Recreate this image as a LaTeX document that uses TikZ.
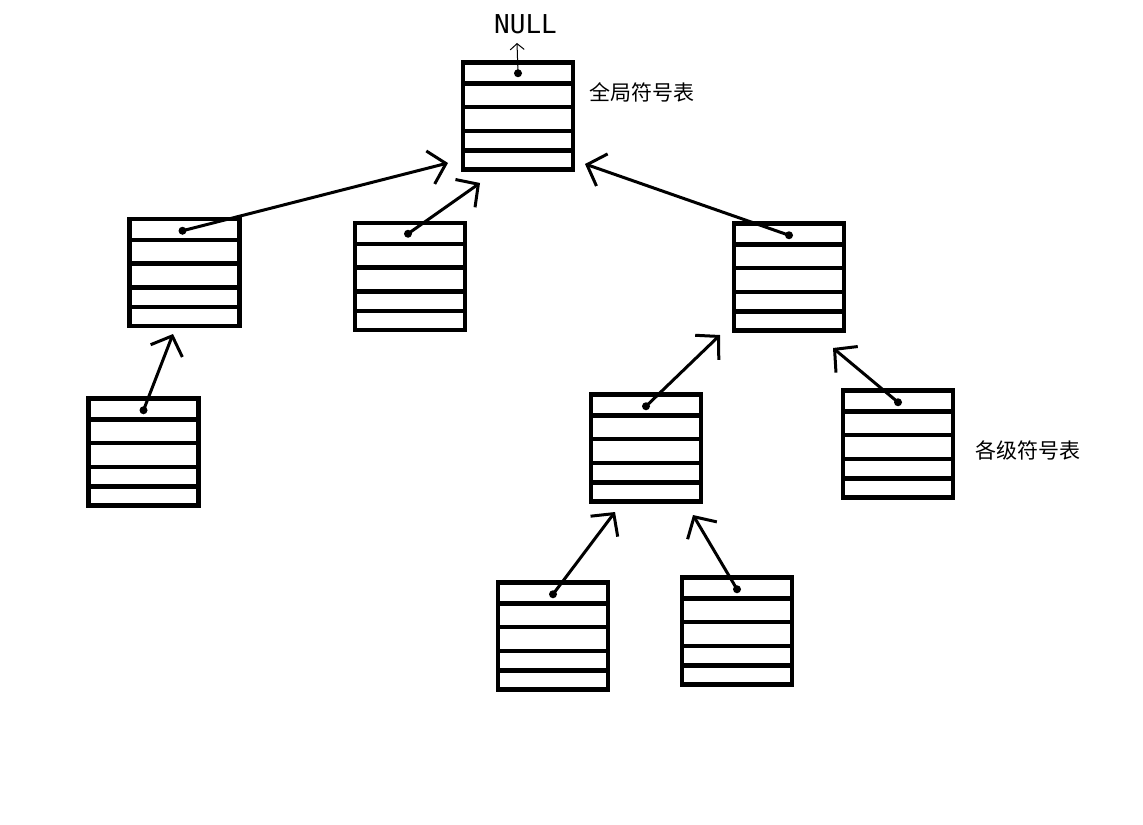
\documentclass[tikz,border=0pt]{standalone}
\usepackage{fontspec}
\newfontfamily\cjk{Noto Sans CJK SC}
\newfontfamily\nilfont{DejaVu Sans Mono}
\usetikzlibrary{arrows.meta, positioning, calc}

\begin{document}
\begin{tikzpicture}[
            x=0.5pt, y=-0.5pt,
            tab/.style={draw, line width=2.25pt, minimum width=55pt, minimum height=53.5pt, inner sep=0pt,
                path picture={
                    \foreach \f in {0.196, 0.416, 0.64, 0.822}
                        \draw[line width=2.1pt]
                            ($(path picture bounding box.north west)!\f!(path picture bounding box.south west)$) --
                            ($(path picture bounding box.north east)!\f!(path picture bounding box.south east)$);
                }},
            dot/.style={circle, fill, inner sep=0pt, minimum size=4pt},
            link/.style={line width=1.5pt, -{Straight Barb[length=8pt, width=17pt]}},
            nil/.style={line width=0.5pt, -{Straight Barb[length=3pt, width=7pt]}},
            lbl/.style={font=\cjk\fontsize{10.5pt}{12pt}\selectfont}
        ]

        \useasboundingbox (0,0) rectangle (1143,824);

        % Symbol tables (manual layout to match figure)
        \node[tab] (G) at (518, 116) {};
        \node[tab] (L1) at (184.5, 272.5) {};
        \node[tab] (L2) at (410, 276.5) {};
        \node[tab] (R) at (789, 277) {};
        \node[tab] (LL) at (143.5, 452) {};
        \node[tab] (RM) at (646, 448) {};
        \node[tab] (RR) at (898, 444) {};
        \node[tab] (B1) at (553, 636) {};
        \node[tab] (B2) at (737, 631) {};

        % Pointer dots
        \node[dot] (dG) at ([yshift=-6.5pt]G.north) {};
        \node[dot] (dL1) at ([yshift=-7pt, xshift=-1pt]L1.north) {};
        \node[dot] (dL2) at ([yshift=-6.5pt, xshift=-1pt]L2.north) {};
        \node[dot] (dR) at ([yshift=-7pt]R.north) {};
        \node[dot] (dLL) at ([yshift=-7pt]LL.north) {};
        \node[dot] (dRM) at ([yshift=-7pt]RM.north) {};
        \node[dot] (dRR) at ([yshift=-7pt]RR.north) {};
        \node[dot] (dB1) at ([yshift=-7pt]B1.north) {};
        \node[dot] (dB2) at ([yshift=-7pt]B2.north) {};

        % Texts
        \node[font=\nilfont\fontsize{13pt}{15pt}\selectfont, inner sep=0pt] (null) at (525.5, 24.5) {NULL};
        \node[lbl] (gl) at (641.5, 92) {全局符号表};
        \node[lbl] (ll) at (1027.5, 450) {各级符号表};

        % Arrow ends
        \coordinate (tG) at (517, 43);
        \coordinate (tL1) at (448, 163);
        \coordinate (tL2) at (480, 183);
        \coordinate (tR) at (585, 164);
        \coordinate (tLL) at (173, 334);
        \coordinate (tRM) at (720, 335);
        \coordinate (tRR) at (833, 348);
        \coordinate (tB1) at (615, 512);
        \coordinate (tB2) at (693, 515);

        % Links to the enclosing table
        \draw[nil] (dG.center) -- (tG);
        \draw[link] (dL1.center) -- (tL1);
        \draw[link] (dL2.center) -- (tL2);
        \draw[link] (dR.center) -- (tR);
        \draw[link] (dLL.center) -- (tLL);
        \draw[link] (dRM.center) -- (tRM);
        \draw[link] (dRR.center) -- (tRR);
        \draw[link] (dB1.center) -- (tB1);
        \draw[link] (dB2.center) -- (tB2);

    \end{tikzpicture}
\end{document}
